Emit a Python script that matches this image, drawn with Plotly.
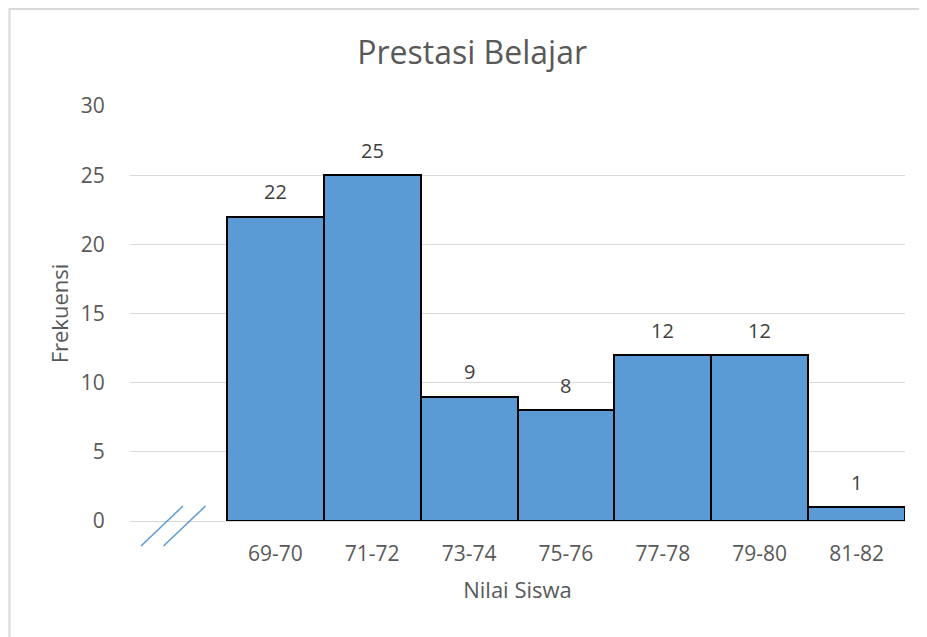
import plotly.graph_objects as go

# nilai siswa (kelas interval) dan frekuensi
categories = ["69-70", "71-72", "73-74", "75-76", "77-78", "79-80", "81-82"]
frekuensi = [22, 25, 9, 8, 12, 12, 1]

# first slot on the axis is left empty (axis break)
positions = list(range(1, len(categories) + 1))

fig = go.Figure()

fig.add_trace(
    go.Bar(
        x=positions,
        y=frekuensi,
        width=1,
        marker=dict(color="#5B9BD5", line=dict(color="#000000", width=2)),
        hoverinfo="x+y",
    )
)

# data labels above each bar
for p, v in zip(positions, frekuensi):
    fig.add_annotation(
        x=p, y=v, text=str(v), showarrow=False,
        yanchor="middle", yshift=25,
        font=dict(family="Open Sans", size=20, color="#404040"),
    )

# light frame around the chart
fig.add_shape(
    type="rect", xref="paper", yref="paper",
    x0=-0.1555, x1=1.2, y0=-0.4, y1=1.2335,
    line=dict(color="#D9D9D9", width=2), layer="below",
)

# axis break marks "//"
for dx in (0.0, 0.0290):
    fig.add_shape(
        type="line", xref="paper", yref="paper",
        x0=0.0142 + dx, y0=-0.0602, x1=0.0684 + dx, y1=0.0361,
        line=dict(color="#5B9BD5", width=1.5),
    )

# the page adds an 8px body margin, so the figure is 8px smaller than the window
fig.update_layout(
    width=919,
    height=629,
    margin=dict(l=122, r=22, t=98, b=116),
    paper_bgcolor="white",
    plot_bgcolor="white",
    showlegend=False,
    title=dict(
        text="Prestasi Belajar",
        x=0.505, xref="container", y=0.928, yref="container",
        xanchor="center", yanchor="middle",
        font=dict(family="Open Sans", size=32, color="#595959"),
    ),
    font=dict(family="Open Sans", color="#595959"),
    bargap=0,
)

fig.update_xaxes(
    range=[-0.5, 7.5],
    tickmode="array",
    tickvals=positions,
    ticktext=categories,
    tickfont=dict(size=21, color="#595959"),
    showgrid=False,
    showline=True,
    linecolor="#D9D9D9",
    linewidth=1,
    ticks="outside",
    tickcolor="rgba(0,0,0,0)",
    ticklen=14,
    title=dict(text="Nilai Siswa", font=dict(size=22, color="#595959"), standoff=16),
)

fig.update_yaxes(
    range=[0, 30],
    dtick=5,
    tickfont=dict(size=21, color="#595959"),
    showgrid=True,
    gridcolor="#D9D9D9",
    gridwidth=1,
    zeroline=False,
    ticks="outside",
    tickcolor="rgba(0,0,0,0)",
    ticklen=20,
    title=dict(text="Frekuensi", font=dict(size=22, color="#595959"), standoff=6),
)

fig.write_html("out.html")
